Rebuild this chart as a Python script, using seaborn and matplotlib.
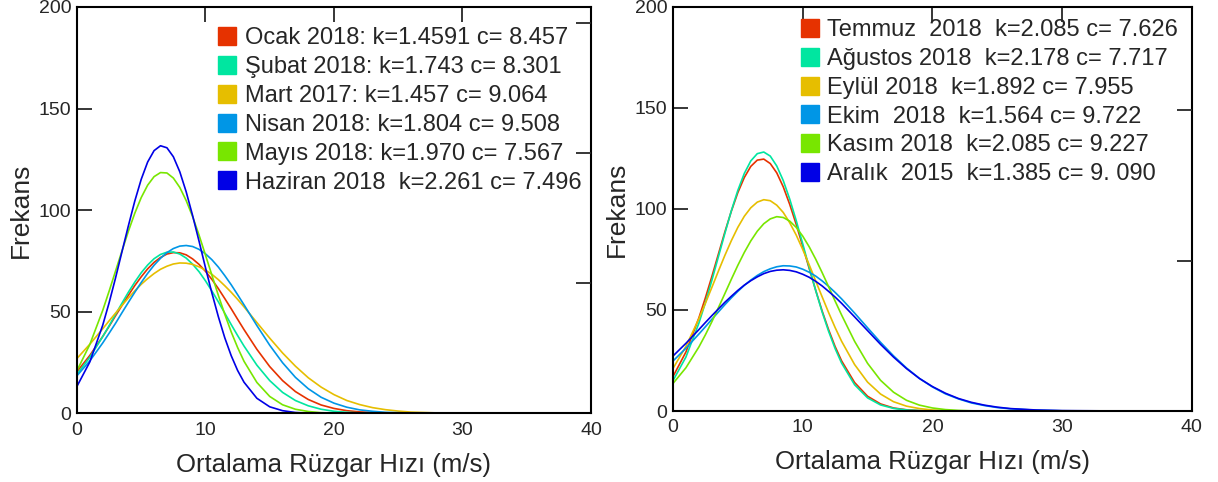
import matplotlib
matplotlib.use('Agg')
import matplotlib.pyplot as plt
import pandas as pd
import seaborn as sns
from matplotlib.lines import Line2D

sns.set_style('white')
plt.rcParams['font.family'] = ['Liberation Sans', 'DejaVu Sans']

# wind speed grid (m/s)
speed = [0, 1, 2, 2.5, 3, 3.5, 4, 4.5, 5, 5.5, 6, 6.5, 7, 7.5, 8, 8.5, 9, 9.5, 10, 10.5, 11, 11.5, 12, 12.5,
         13, 14, 15, 16, 17, 18, 19, 20, 21, 22, 23, 24, 25, 26, 28, 30, 35, 40]

# left panel: Jan - Jun
ocak = [20.5, 28.5, 37.8, 42.8, 48.0, 53.1, 58.1, 62.9, 67.2, 71.1, 74.3, 76.7, 78.4, 79.1, 79.0, 78.0,
        76.0, 73.3, 69.9, 65.9, 61.4, 56.5, 51.5, 46.3,
        41.2, 31.5, 23.0, 16.1, 10.7, 6.8, 4.1, 2.4, 1.3, 0.7, 0.4, 0.2, 0.1, 0.0, 0.0, 0.0, 0.0, 0.0]
subat = [19.2, 27.6, 37.7, 43.1, 48.7, 54.2, 59.6, 64.6, 69.2, 73.0, 76.1, 78.2, 79.3, 79.4, 78.4, 76.4,
         73.4, 69.7, 65.2, 60.2, 54.9, 49.3, 43.7, 38.3,
         33.1, 23.7, 16.1, 10.3, 6.3, 3.7, 2.0, 1.0, 0.5, 0.2, 0.1, 0.0, 0.0, 0.0, 0.0, 0.0, 0.0, 0.0]
mart = [27.0, 34.0, 41.6, 45.5, 49.3, 53.1, 56.8, 60.3, 63.5, 66.3, 68.8, 70.9, 72.4, 73.5, 74.0, 73.9,
        73.3, 72.1, 70.5, 68.4, 65.8, 62.8, 59.6, 56.1,
        52.4, 44.7, 37.0, 29.7, 23.2, 17.5, 12.9, 9.2, 6.3, 4.3, 2.8, 1.8, 1.1, 0.6, 0.2, 0.0, 0.0, 0.0]
nisan = [18.5, 25.8, 34.6, 39.4, 44.3, 49.5, 54.6, 59.6, 64.4, 68.9, 72.9, 76.3, 79.1, 81.1, 82.3, 82.6,
         82.1, 80.7, 78.5, 75.6, 72.0, 67.8, 63.3, 58.4,
         53.4, 43.2, 33.5, 24.9, 17.7, 12.1, 7.9, 5.0, 3.0, 1.7, 1.0, 0.5, 0.3, 0.1, 0.0, 0.0, 0.0, 0.0]
mayis = [21.0, 33.9, 50.6, 60.1, 70.0, 79.9, 89.6, 98.5, 106.2, 112.3, 116.5, 118.5, 118.3, 115.8, 111.2, 104.7,
         96.8, 87.7, 77.9, 68.0, 58.1, 48.8, 40.1, 32.4,
         25.6, 15.2, 8.3, 4.2, 2.0, 0.9, 0.3, 0.1, 0.0, 0.0, 0.0, 0.0, 0.0, 0.0, 0.0, 0.0, 0.0, 0.0]
haziran = [13.3, 25.3, 43.3, 54.4, 66.6, 79.5, 92.3, 104.5, 115.2, 123.7, 129.3, 131.7, 130.7, 126.3, 118.9, 109.0,
           97.3, 84.7, 71.7, 59.2, 47.6, 37.2, 28.4, 21.1,
           15.3, 7.4, 3.2, 1.3, 0.4, 0.1, 0.0, 0.0, 0.0, 0.0, 0.0, 0.0, 0.0, 0.0, 0.0, 0.0, 0.0, 0.0]

# right panel: Jul - Dec
temmuz = [17.0, 29.2, 46.1, 56.0, 66.6, 77.6, 88.6, 98.9, 108.1, 115.6, 121.1, 124.2, 124.7, 122.5, 117.9, 111.0,
          102.3, 92.4, 81.6, 70.6, 59.8, 49.5, 40.2, 31.9,
          24.8, 14.1, 7.3, 3.5, 1.5, 0.6, 0.2, 0.0, 0.0, 0.0, 0.0, 0.0, 0.0, 0.0, 0.0, 0.0, 0.0, 0.0]
agustos = [15.0, 26.7, 43.5, 53.6, 64.7, 76.3, 87.9, 99.1, 109.2, 117.6, 123.8, 127.4, 128.2, 126.2, 121.3, 114.1,
           104.9, 94.3, 82.8, 71.1, 59.7, 49.0, 39.4, 30.9,
           23.7, 13.0, 6.5, 3.0, 1.3, 0.5, 0.2, 0.0, 0.0, 0.0, 0.0, 0.0, 0.0, 0.0, 0.0, 0.0, 0.0, 0.0]
eylul = [21.0, 32.0, 45.7, 53.3, 61.2, 69.2, 77.0, 84.3, 90.9, 96.4, 100.6, 103.4, 104.6, 104.1, 101.9, 98.3,
         93.2, 87.1, 80.0, 72.4, 64.4, 56.5, 48.7, 41.3,
         34.5, 23.0, 14.3, 8.4, 4.6, 2.4, 1.2, 0.5, 0.2, 0.0, 0.0, 0.0, 0.0, 0.0, 0.0, 0.0, 0.0, 0.0]
ekim = [24.7, 31.1, 38.1, 41.7, 45.4, 49.0, 52.6, 56.0, 59.2, 62.2, 64.8, 67.1, 69.0, 70.4, 71.4, 71.9,
        71.8, 71.3, 70.2, 68.7, 66.8, 64.4, 61.7, 58.7,
        55.5, 48.5, 41.2, 34.0, 27.3, 21.3, 16.1, 11.9, 8.5, 6.0, 4.0, 2.7, 1.7, 1.1, 0.4, 0.1, 0.0, 0.0]
kasim = [13.6, 21.4, 31.7, 37.7, 44.2, 51.1, 58.1, 65.2, 72.1, 78.5, 84.2, 89.0, 92.7, 95.1, 96.2, 95.8,
         94.0, 90.9, 86.6, 81.3, 75.2, 68.5, 61.5, 54.4,
         47.5, 34.5, 23.6, 15.2, 9.3, 5.3, 2.9, 1.5, 0.7, 0.3, 0.1, 0.0, 0.0, 0.0, 0.0, 0.0, 0.0, 0.0]
aralik = [27.2, 33.5, 40.3, 43.8, 47.2, 50.5, 53.8, 56.8, 59.7, 62.3, 64.5, 66.4, 68.0, 69.1, 69.7, 69.9,
          69.6, 68.9, 67.7, 66.2, 64.2, 61.9, 59.2, 56.4,
          53.3, 46.6, 39.8, 33.0, 26.7, 21.0, 16.1, 12.1, 8.8, 6.2, 4.3, 2.9, 1.9, 1.2, 0.5, 0.2, 0.0, 0.0]

left_labels = ['Ocak 2018: k=1.4591 c= 8.457', 'Şubat 2018: k=1.743 c= 8.301', 'Mart 2017: k=1.457 c= 9.064',
               'Nisan 2018: k=1.804 c= 9.508', 'Mayıs 2018: k=1.970 c= 7.567', 'Haziran 2018  k=2.261 c= 7.496']
right_labels = ['Temmuz  2018  k=2.085 c= 7.626', 'Ağustos 2018  k=2.178 c= 7.717', 'Eylül 2018  k=1.892 c= 7.955',
                'Ekim  2018  k=1.564 c= 9.722', 'Kasım 2018  k=2.085 c= 9.227', 'Aralık  2015  k=1.385 c= 9. 090']
colors = ['#E63200', '#00E6A0', '#E6BE00', '#0096E6', '#78E600', '#0000E6']


def long_df(series, labels):
    frames = [pd.DataFrame({'speed': speed, 'freq': s, 'month': lab}) for s, lab in zip(series, labels)]
    return pd.concat(frames, ignore_index=True)


fig = plt.figure(figsize=(12.18, 4.82), dpi=100)
ax1 = fig.add_axes([0.0632, 0.1425, 0.4220, 0.8430])
ax2 = fig.add_axes([0.5525, 0.1473, 0.4261, 0.8382])

panels = [(ax1, long_df([ocak, subat, mart, nisan, mayis, haziran], left_labels), left_labels,
           [64, 128, 192], (0.274, 0.950)),
          (ax2, long_df([temmuz, agustos, eylul, ekim, kasim, aralik], right_labels), right_labels,
           [74.5, 149], (0.245, 0.970))]

for ax, df, labels, rticks, leg_pos in panels:
    sns.lineplot(data=df, x='speed', y='freq', hue='month', hue_order=labels, palette=colors,
                 linewidth=1.2, legend=False, ax=ax)
    ax.set_xlim(0, 40)
    ax.set_ylim(0, 200)
    ax.set_xticks([0, 10, 20, 30, 40])
    ax.set_yticks([0, 50, 100, 150, 200])
    ax.tick_params(direction='in', length=11, width=1.3, labelsize=14, top=True, pad=6)
    ax.tick_params(axis='y', right=False, pad=4)
    for sp in ax.spines.values():
        sp.set_color('black')
        sp.set_linewidth(1.5)
    ax.set_xlabel('Ortalama Rüzgar Hızı (m/s)', fontsize=18.5, labelpad=10)
    ax.set_ylabel('Frekans', fontsize=19, labelpad=4)
    # unlabeled ticks on the right frame
    tw = ax.twinx()
    tw.set_ylim(0, 200)
    tw.set_yticks(rticks)
    tw.tick_params(direction='in', length=11, width=1.3, labelright=False)
    for sp in tw.spines.values():
        sp.set_visible(False)
    handles = [Line2D([], [], linestyle='none', marker='s', markersize=13, markerfacecolor=c,
                      markeredgecolor=c) for c in colors]
    ax.legend(handles, labels, loc='upper left', bbox_to_anchor=leg_pos, frameon=False, fontsize=17,
              borderpad=0, borderaxespad=0, handlelength=0.8, handletextpad=0.35, labelspacing=0.29)

fig.savefig('out.png', dpi=100)
